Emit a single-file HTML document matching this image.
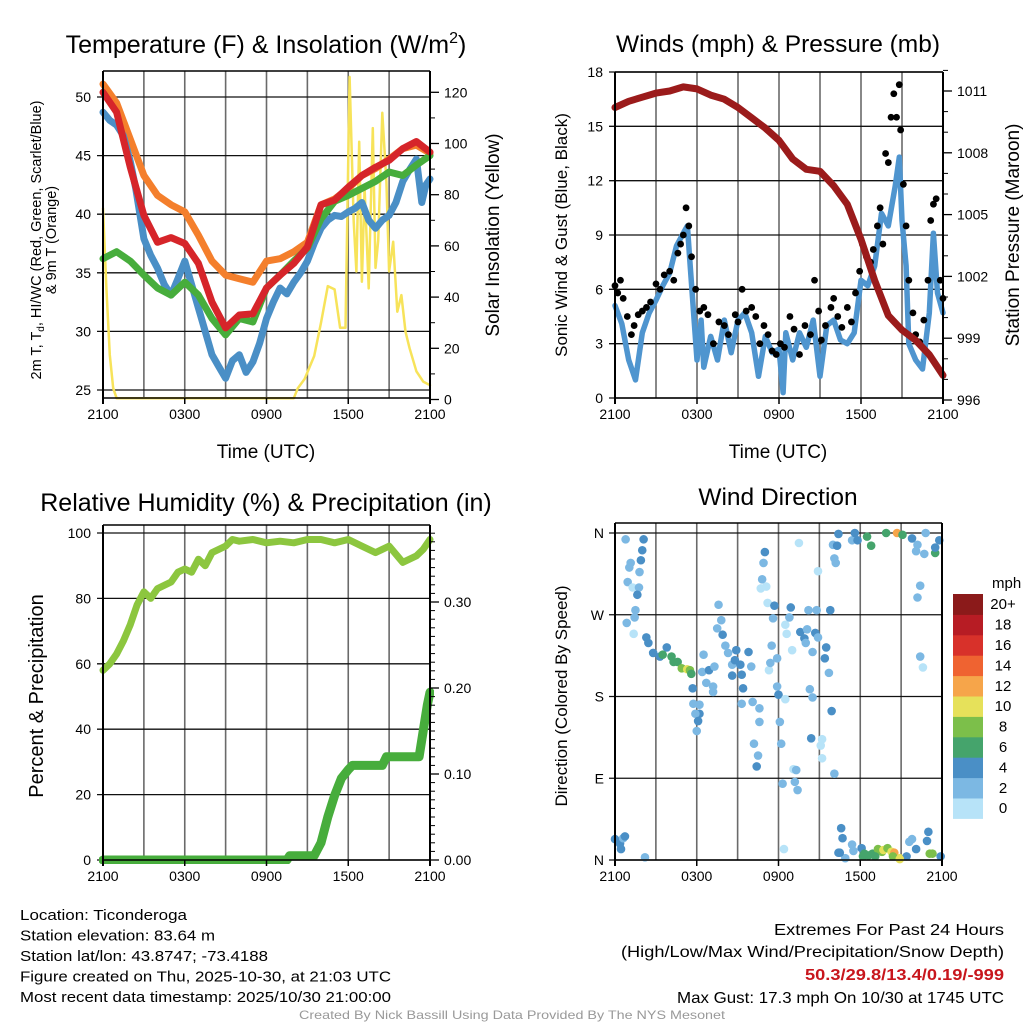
<!DOCTYPE html>
<html><head><meta charset="utf-8"><style>
body{margin:0;background:#fff;}
svg{display:block;font-family:"Liberation Sans",sans-serif;}
</style></head><body>
<svg id="root" width="1024" height="1024" viewBox="0 0 1024 1024" xmlns="http://www.w3.org/2000/svg"></svg>
<script>
// ---------- DATA ----------
const hourly = [0,1,2,3,4,5,6,7,8,9,10,11,12,13,14,15,16,17,18,19,20,21,22,23,24];
const tempRed = [50.4,48.7,44,39.9,37.6,38,37.5,35.8,32.5,30.3,31.4,31.5,33.7,34.8,35.8,37.2,40.8,41.2,42.3,43.3,44,44.6,45.6,46.2,45.3];
const tempOrange = [51.1,49.5,46.4,43.3,41.6,40.8,40.2,38.2,36,34.8,34.5,34.2,36,36.2,36.8,37.6,40.8,41.3,42.2,43.3,43.9,44.7,45.6,45.9,45.2];
const tempGreen = [36.2,36.8,36,34.8,33.7,33.1,34.2,33.1,31.1,29.7,31.1,30.8,33.7,34.8,36,37.1,39.6,41.1,41.6,42.2,42.8,43.6,43.3,44.2,45];
const blueHours = [0,0.5,1,1.5,2,2.4,3,3.5,4,4.5,5,5.5,6,6.5,7,7.5,8,8.5,9,9.5,10,10.5,11,11.5,12,12.5,13,13.5,14,14.5,15,15.5,16,16.5,17,17.5,18,18.5,19,19.5,20,20.5,21,21.5,22,22.5,23,23.4,23.7,24];
const tempBlue = [48.7,48,47.6,46.7,44.5,42.2,37.9,36.5,35.4,34,33.1,34.5,36,34,32,30,28,27,26,27.5,28,26.5,27.4,29,31.1,32.5,33.7,33.2,34.2,35,36,37.5,38.8,39.5,39.9,39.8,40.2,40.5,41,39.5,38.8,39.5,39.9,41,42.8,43.8,44.7,41,42.5,43];
const solarHours = [0,0.25,0.5,0.75,1,14,14.3,14.8,15.5,16,16.5,17,17.4,17.8,18.1,18.4,18.6,18.8,19,19.2,19.5,19.8,20,20.2,20.5,20.8,21,21.3,21.6,21.9,22.2,22.5,23,23.5,24];
const solar = [74.7,43.4,17.4,4.4,0.5,0.5,4.4,8,17,30,44.3,43,28,28,126,69.5,50,100.7,46,82.6,43.4,106,51.4,62,112,85,50,61.6,34.3,40.8,26.5,20,11,7,5.6];
const windHours = [0,0.5,1,1.5,2,2.5,3,3.5,4,4.5,5,5.3,5.5,6,6.3,6.5,7,7.5,8,8.5,9,9.5,10,10.5,11,11.5,12,12.3,12.5,13,13.5,14,14.5,15,15.5,16,16.5,17,17.5,18,18.5,19,19.5,20,20.5,20.8,21,21.3,21.5,22,22.5,23,23.3,23.6,24];
const windSpeed = [5.1,4.1,2.1,1,3.6,4.7,5.4,6.2,6.9,8.4,9.1,9.5,7.3,2.1,4.3,1.7,3.4,2.1,4.3,2.5,4.3,4.7,3.6,1.2,3.4,2.5,2.7,0.3,3.6,2.1,3.6,2.8,4.3,1.2,4,4.3,3.2,3,3.6,6.5,6.2,7.3,10.2,9.5,11.7,13.3,9.8,7.3,3,2.1,1.6,4.7,9.1,5.8,4.7];
const gustHours = [0,0.2,0.4,0.6,0.9,1.2,1.4,1.7,2,2.3,2.6,3,3.3,3.6,4,4.3,4.6,4.8,5,5.2,5.4,5.6,5.9,6.2,6.5,6.8,7.2,7.6,8,8.3,8.8,9,9.3,9.6,10,10.3,10.6,10.9,11.2,11.5,11.8,12.1,12.4,12.8,13.1,13.5,13.9,14.3,14.6,14.9,15.1,15.4,15.8,16,16.3,16.6,17,17.3,17.6,17.9,18.1,18.4,18.7,18.9,19.2,19.4,19.6,19.8,20,20.2,20.4,20.6,20.8,20.9,21.1,21.3,21.5,21.8,22,22.3,22.6,22.9,23.1,23.3,23.5,23.8,24];
const gustSpeed = [6.2,5.8,6.5,5.5,4.5,3.5,4,4.6,4.8,5,5.3,6.3,6,6.8,7,6.5,8,8.5,9,10.5,9.5,7.8,6,4.8,5,4.6,3,4.2,4,3.5,4.6,4.2,6,4.8,5,4.5,3,4,3.5,2.6,2.4,3,2.8,4.5,3.8,2.4,4,3.5,6.5,4.8,3.2,4,5,5.5,4.5,3.9,5,4.2,5.8,7,8.5,7.8,7.5,8.2,9.5,10.5,8.5,13.5,13,15.5,16.8,15.5,17.3,14.8,11.8,9.5,6.5,4.7,3.5,3.1,4.3,6.5,9.8,10.7,11,6.5,5.5];
const pressure = [1010.2,1010.5,1010.7,1010.9,1011.0,1011.2,1011.1,1010.8,1010.6,1010.2,1009.7,1009.2,1008.6,1007.7,1007.2,1007.1,1006.4,1005.5,1003.8,1001.8,1000.1,999.4,998.9,998.2,997.2];
const rhHours = [0,0.5,1,1.5,2,2.5,3,3.5,4,5,5.5,6,6.5,7,7.5,8,9,9.5,10,11,12,13,14,15,16,17,18,19,20,21,22,23,23.5,24];
const rh = [58,60,63,67,72,78,82,80,83,85,88,89,88,92,90,94,96,98,97.5,98,97,97.5,97,98,98,97,98,96,94,96,91,93,95,98];
const precipHours = [0,13.5,13.7,15.5,16,16.5,17,17.5,18,18.3,20.5,20.8,23.2,23.5,23.8,24];
const precip = [0,0,0.005,0.005,0.02,0.05,0.075,0.095,0.105,0.11,0.11,0.12,0.12,0.15,0.18,0.195];
const dirHours = [0.78,2.1,2.0,1.9,1.15,1.05,1.8,0.93,1.3,1.76,1.64,1.5,1.44,0.86,1.37,2.3,2.45,2.8,3.3,3.8,3.5,4.15,4.3,4.6,4.9,5.3,5.5,5.6,5.7,5.75,6.2,6.2,5.9,6.1,6.0,6.5,6.4,6.9,6.7,7.2,7.3,7.2,7.6,7.8,7.5,7.9,8.1,8.3,8.6,8.6,8.9,8.8,9.2,9.3,9.4,9.3,9.8,10.0,10.1,10.2,10.5,10.4,10.6,10.6,10.8,10.7,11.0,10.9,11.1,11.2,11.3,11.4,11.5,11.7,11.6,11.9,11.9,12.0,12.5,12.1,12.2,12.3,12.4,12.5,12.6,12.8,12.9,13.0,13.1,13.2,13.4,13.3,13.5,13.6,13.9,14.0,14.2,14.1,14.3,14.5,14.4,14.7,14.8,14.9,14.9,14.5,15.2,15.1,15.2,15.5,15.4,15.7,15.8,15.9,16.1,16.0,16.3,16.4,16.1,16.2,16.6,16.7,16.4,16.9,17.4,17.4,17.6,17.8,18.1,18.2,18.5,18.8,18.6,18.9,19.3,19.6,19.9,19.7,20.0,20.3,20.5,20.7,20.9,21.1,21.4,21.8,21.6,21.8,22.1,22.2,22.1,22.7,22.8,22.4,22.2,22.4,22.6,23.0,22.9,23.1,23.3,23.5,23.5,23.8,23.9,0,0.37,0.6,0.44,0.73,2.2,16.5,17.5,18.3,19.1,20.4,20.9];
const dirDeg = [353,353,341,330,327,322,317,306,300,300,292,275,267,261,249,245,239,228,224,234,226,224,218,218,211,210,209,205,189,172,171,161,161,153,142,226,207,209,195,185,213,191,281,264,255,248,236,228,215,203,231,220,215,204,189,172,229,213,174,128,115,103,167,152,309,299,339,327,301,283,209,217,236,280,266,222,191,182,177,152,128,84,12,259,249,267,278,231,100,86,77,99,349,251,244,239,275,254,188,179,134,250,275,318,245,229,133,126,112,234,222,206,275,164,95,347,346,359,332,327,35,24,8,2,17,352,360,352,13,4,356,346,5,7,12,9,360,11,13,9,8,360,2,358,4,354,20,23,12,347,340,337,360,302,289,224,212,31,21,7,7,338,344,352,4,23,18,24,12,26,3,8,10,7,4,4,1];
const dirSpeed = [2,4,4,4,2,2,2,2,0,2,4,2,2,2,0,4,4,4,4,4,6,6,6,6,8,10,8,6,4,2,2,4,2,4,2,2,2,4,2,2,2,2,2,2,2,4,2,2,2,4,4,4,4,4,4,2,4,2,2,2,2,4,2,2,2,0,4,2,0,0,0,2,2,4,2,2,2,4,0,2,2,2,0,0,0,2,4,0,0,2,2,2,0,4,4,2,2,2,2,2,4,4,2,0,2,2,0,0,0,4,4,2,4,4,2,2,4,4,2,2,4,4,4,2,2,2,4,4,4,6,6,6,6,6,8,8,6,10,8,10,12,12,10,6,4,4,2,2,4,2,2,2,2,2,2,2,0,4,4,8,8,6,4,4,4,4,4,2,4,4,2,4,2,6,6,8,10];
const scaleLabels = ["0","2","4","6","8","10","12","14","16","18","20+"];
const scaleColors = ["#b7e3f8","#7cb8e3","#4a8fc6","#45a46c","#7cbf4a","#e6e15a","#f6a54a","#ef6331","#d8312a","#b71c24","#8b1a1a"];
const xTickHours = [0,6,12,18,24];
const xTickLabels = ["2100","0300","0900","1500","2100"];

// ---------- HELPERS ----------
const NS="http://www.w3.org/2000/svg";
const root=document.getElementById('root');
function mk(tag,attrs,parent){const e=document.createElementNS(NS,tag);for(const k in attrs)e.setAttribute(k,attrs[k]);(parent||root).appendChild(e);return e;}
function txt(s,x,y,size,anchor,parent,extra){const e=mk('text',Object.assign({x:x,y:y,'font-size':size,'text-anchor':anchor||'middle',fill:'#000'},extra||{}),parent);e.textContent=s;return e;}
function lin(d0,d1,r0,r1){return v=>r0+(v-d0)*(r1-r0)/(d1-d0);}
function pathFrom(xs,ys,fx,fy){let d='';for(let i=0;i<xs.length;i++)d+=(i?'L':'M')+fx(xs[i]).toFixed(1)+','+fy(ys[i]).toFixed(1);return d;}

function frame(g,x0,x1,y0,y1,fx,hGrid,fyL,name){
  for(let h=3;h<24;h+=3){const l=mk('line',{x1:fx(h),x2:fx(h),y1:y0,y2:y1,stroke:'#6a6a6a','stroke-width':1.6},g);
    
    }
  hGrid.forEach(v=>{const l=mk('line',{x1:x0-6,x2:x1,y1:fyL(v),y2:fyL(v),stroke:'#111','stroke-width':1.3},g);
    
    });
}
function axesBox(g,x0,x1,y0,y1,fx,name){
  const a=mk('line',{x1:x0,x2:x0,y1:y0,y2:y1+6,stroke:'#000','stroke-width':2},g);
  
  
  const b=mk('line',{x1:x1,x2:x1,y1:y0,y2:y1+6,stroke:'#000','stroke-width':2},g);
  
  
  const c=mk('line',{x1:x0,x2:x1,y1:y0,y2:y0,stroke:'#000','stroke-width':1.5},g);
  
  
  const d=mk('line',{x1:x0,x2:x1,y1:y1,y2:y1,stroke:'#000','stroke-width':1.5},g);
  
  
  xTickHours.forEach((h,i)=>{const t=mk('line',{x1:fx(h),x2:fx(h),y1:y1,y2:y1+6,stroke:'#000','stroke-width':1.5},g);
    
    
    const l=txt(xTickLabels[i],fx(h),y1+21,14,'middle',g);
    
    });
}
function rightTicks(g,x1,vals,labels,fy,minors,name){
  minors.forEach(v=>{const t=mk('line',{x1:x1,x2:x1+5,y1:fy(v),y2:fy(v),stroke:'#000','stroke-width':1},g);
    
    });
  vals.forEach((v,i)=>{const t=mk('line',{x1:x1,x2:x1+9,y1:fy(v),y2:fy(v),stroke:'#000','stroke-width':1.3},g);
    
    
    const l=txt(labels[i],x1+14,fy(v)+5,14,'start',g);
    
    });
}
function leftLabels(g,x0,vals,labels,fy,name){
  vals.forEach((v,i)=>{const l=txt(labels[i],x0-12,fy(v)+5,14,'end',g);
    
    });
}
function series(g,xs,ys,fx,fy,color,w,name){
  const p=mk('path',{d:pathFrom(xs,ys,fx,fy),fill:'none',stroke:color,'stroke-width':w,'stroke-linejoin':'round','stroke-linecap':'round'},g);
  
  
  return p;
}
function clipRect(id,x0,x1,y0,y1){const d=mk('defs',{});const c=mk('clipPath',{id:id},d);mk('rect',{x:x0-4,y:y0-8,width:x1-x0+8,height:y1-y0+12},c);}

// ---------- PANEL 1 ----------
(function(){
  const x0=103,x1=430,y0=71,y1=398;
  const g=mk('g',{});
  
  
  const fx=lin(0,24,x0,x1), fyT=lin(25,50,390,97), fyS=lin(0,120,399.5,92.3);
  clipRect('c1',x0,x1,y0,y1);
  frame(g,x0,x1,y0,y1,fx,[25,30,35,40,45,50],fyT,'temp');
  const s=mk('g',{'clip-path':'url(#c1)'},g);
  series(s,solarHours,solar,fx,fyS,'#f7e35a',2.5,'solar-insolation-line');
  series(s,hourly,tempOrange,fx,fyT,'#f47f2c',7,'temp-9m-line');
  series(s,blueHours,tempBlue,fx,fyT,'#4a8fc6',7,'heat-index-windchill-line');
  series(s,hourly,tempGreen,fx,fyT,'#47ad3c',7,'dewpoint-line');
  series(s,hourly,tempRed,fx,fyT,'#d6252a',7,'temp-2m-line');
  axesBox(g,x0,x1,y0,y1,fx,'temp');
  leftLabels(g,x0,[25,30,35,40,45,50],['25','30','35','40','45','50'],fyT,'temp');
  const mn=[];for(let v=10;v<130;v+=10)if(v%20)mn.push(v);
  rightTicks(g,x1,[0,20,40,60,80,100,120],['0','20','40','60','80','100','120'],fyS,mn,'solar');
  const t=mk('text',{x:266,y:53,'font-size':25,'text-anchor':'middle'},g);
  t.innerHTML='Temperature (F) &amp; Insolation (W/m<tspan font-size="16" dy="-10">2</tspan><tspan dy="10">)</tspan>';
  
  
  const xl=txt('Time (UTC)',266,458,19,'middle',g);
  
  
  const yl=mk('text',{x:0,y:0,'font-size':14.5,'text-anchor':'middle',transform:'translate(41,240) rotate(-90)'},g);
  yl.innerHTML='2m T, T<tspan font-size="10" dy="3">d</tspan><tspan dy="-3">, HI/WC (Red, Green, Scarlet/Blue)</tspan>';
  
  
  const yl2=txt('& 9m T (Orange)',0,0,14.5,'middle',g,{transform:'translate(56,240) rotate(-90)'});
  
  
  const yr=txt('Solar Insolation (Yellow)',0,0,19,'middle',g,{transform:'translate(499,235) rotate(-90)'});
  
  
})();

// ---------- PANEL 2 ----------
(function(){
  const x0=615,x1=943,y0=72,y1=398;
  const g=mk('g',{});
  
  
  const fx=lin(0,24,x0,x1), fyW=lin(0,18,398,72), fyP=lin(996,1011,400,91);
  clipRect('c2',x0,x1,y0,y1);
  frame(g,x0,x1,y0,y1,fx,[0,3,6,9,12,15,18],fyW,'wind');
  const s=mk('g',{'clip-path':'url(#c2)'},g);
  series(s,windHours,windSpeed,fx,fyW,'#4f95cf',5.5,'sonic-wind-line');
  gustHours.forEach((h,i)=>{const c=mk('circle',{cx:fx(h),cy:fyW(gustSpeed[i]),r:3.4,fill:'#000'},s);
    
    });
  series(s,hourly,pressure,fx,fyP,'#9b1b1b',7,'station-pressure-line');
  axesBox(g,x0,x1,y0,y1,fx,'wind');
  leftLabels(g,x0,[0,3,6,9,12,15,18],['0','3','6','9','12','15','18'],fyW,'wind');
  rightTicks(g,x1,[996,999,1002,1005,1008,1011],['996','999','1002','1005','1008','1011'],fyP,[997,998,1000,1001,1003,1004,1006,1007,1009,1010,1012],'pressure');
  const t=txt('Winds (mph) & Pressure (mb)',778,52,24.5,'middle',g);
  
  
  const xl=txt('Time (UTC)',778,458,19,'middle',g);
  
  
  const yl=txt('Sonic Wind & Gust (Blue, Black)',0,0,17,'middle',g,{transform:'translate(567,235) rotate(-90)'});
  
  
  const yr=txt('Station Pressure (Maroon)',0,0,19,'middle',g,{transform:'translate(1019,235) rotate(-90)'});
  
  
})();

// ---------- PANEL 3 ----------
(function(){
  const x0=103,x1=430,y0=525,y1=860;
  const g=mk('g',{});
  
  
  const fx=lin(0,24,x0,x1), fyR=lin(0,100,860,533), fyP=lin(0,0.1,860,774);
  clipRect('c3',x0,x1,y0,y1);
  frame(g,x0,x1,y0,y1,fx,[0,20,40,60,80,100],fyR,'rh');
  const s=mk('g',{'clip-path':'url(#c3)'},g);
  series(s,rhHours,rh,fx,fyR,'#8cc63f',7,'relative-humidity-line');
  series(s,precipHours,precip,fx,fyP,'#47ad3c',9,'precipitation-line');
  axesBox(g,x0,x1,y0,y1,fx,'rh');
  leftLabels(g,x0,[0,20,40,60,80,100],['0','20','40','60','80','100'],fyR,'rh');
  const mn=[];for(let i=1;i<39;i++)if(i%10)mn.push(i/100);
  rightTicks(g,x1,[0,0.1,0.2,0.3],['0.00','0.10','0.20','0.30'],fyP,mn,'precip');
  const t=txt('Relative Humidity (%) & Precipitation (in)',266,511,25,'middle',g);
  
  
  const yl=txt('Percent & Precipitation',0,0,20,'middle',g,{transform:'translate(43,696) rotate(-90)'});
  
  
})();

// ---------- PANEL 4 ----------
(function(){
  const x0=615,x1=942,y0=523,y1=860;
  const g=mk('g',{});
  
  
  const fx=lin(0,24,x0,x1), fyD=lin(0,360,860,533);
  frame(g,x0,x1,y0,y1,fx,[0,90,180,270,360],fyD,'dir');
  dirHours.forEach((h,i)=>{const c=mk('circle',{cx:fx(h),cy:fyD(dirDeg[i]),r:4.3,fill:scaleColors[Math.min(10,Math.round(dirSpeed[i]/2))]},g);
    
    });
  axesBox(g,x0,x1,y0,y1,fx,'dir');
  leftLabels(g,x0+1,[0,90,180,270,360],['N','E','S','W','N'],fyD,'dir');
  const t=txt('Wind Direction',778,505,24.5,'middle',g);
  
  
  const yl=txt('Direction (Colored By Speed)',0,0,17,'middle',g,{transform:'translate(567,696) rotate(-90)'});
  
  
  const lg=mk('g',{},g);
  
  
  const unit=txt('mph',992,588,15,'start',lg);
  
  
  const top=594,h=20.4;
  scaleColors.forEach((c,i)=>{const k=10-i;
    const rr=mk('rect',{x:953,y:top+k*h,width:30,height:h+0.5,fill:c},lg);
    
    
    const l=txt(scaleLabels[i],1003,top+k*h+h/2+5,15,'middle',lg);
    
    });
})();

// ---------- FOOTER ----------
const infoLines=["Location: Ticonderoga","Station elevation: 83.64 m","Station lat/lon: 43.8747; -73.4188","Figure created on Thu, 2025-10-30, at 21:03 UTC","Most recent data timestamp: 2025/10/30 21:00:00"];
const infoLens=[167,195,248,371,371];
infoLines.forEach((s,i)=>{const e=txt(s,20,920+i*20.5,15,'start',null,{textLength:infoLens[i],lengthAdjust:'spacingAndGlyphs'});
  
  });
const e1=txt('Extremes For Past 24 Hours',1004,935,16,'end',null,{textLength:230,lengthAdjust:'spacingAndGlyphs'});


const e2=txt('(High/Low/Max Wind/Precipitation/Snow Depth)',1004,957,16,'end',null,{textLength:383,lengthAdjust:'spacingAndGlyphs'});


const e3=txt('50.3/29.8/13.4/0.19/-999',1004,980,16,'end',null,{fill:'#c8161d','font-weight':'bold',textLength:199,lengthAdjust:'spacingAndGlyphs'});


const e4=txt('Max Gust: 17.3 mph On 10/30 at 1745 UTC',1004,1003,16,'end',null,{textLength:327,lengthAdjust:'spacingAndGlyphs'});


const cr=txt('Created By Nick Bassill Using Data Provided By The NYS Mesonet',512,1019,12,'middle',null,{fill:'#999',textLength:426,lengthAdjust:'spacingAndGlyphs'});


</script>
</body></html>
